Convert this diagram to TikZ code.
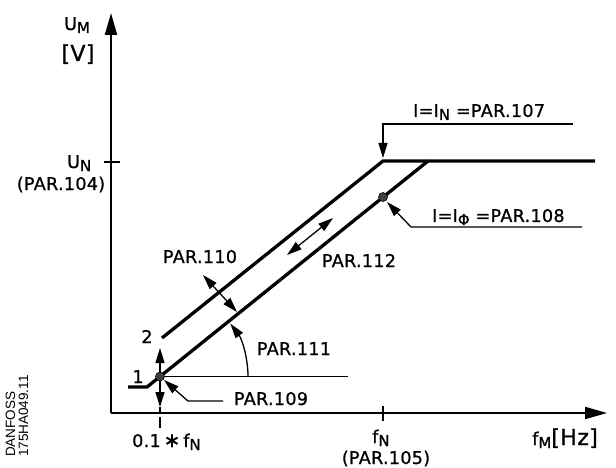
\documentclass[tikz,border=0pt]{standalone}
\usepackage{fontspec}
\setmainfont{DejaVu Sans}[LetterSpace=2, FakeBold=1]
\newfontfamily\tagfont{Liberation Sans}
\usetikzlibrary{arrows.meta}
\newcommand{\lowsub}[1]{\raisebox{-3pt}{\fontsize{15}{15}\selectfont #1}}
\newcommand{\bigunit}[1]{{\fontsize{22}{22}\selectfont #1}}
\begin{document}
\begin{tikzpicture}[x=1pt,y=-1pt,
  lbl/.style={inner sep=0pt, font=\fontsize{17.5}{19}\selectfont},
  tag/.style={inner sep=0pt, rotate=90, anchor=base west, font=\tagfont\fontsize{13.5}{13.5}\selectfont},
  axisline/.style={line width=2pt, -{Triangle[length=22pt,width=12pt]}},
  curve/.style={line width=3.3pt},
  thinline/.style={line width=1.3pt},
  tipend/.style={-{Triangle[length=15pt,width=9pt]}},
  tipboth/.style={{Triangle[length=15pt,width=9pt]}-{Triangle[length=15pt,width=9pt]}},
  dot/.style={circle, fill=black!75, draw=black, line width=0.6pt, inner sep=0pt, minimum size=9pt}
]
\useasboundingbox (0,0) rectangle (616,468);

% axes
\coordinate (O) at (111,413);
\coordinate (Ytop) at (111,13);
\coordinate (Xend) at (607,413);
\draw[axisline] (O) -- (Ytop);
\draw[axisline] (O) -- (Xend);

% ticks
\coordinate (unL) at (104,162);
\coordinate (unR) at (120,162);
\draw[thinline] (unL) -- (unR);
\coordinate (fnT) at (383,406);
\coordinate (fnB) at (383,421);
\draw[thinline] (fnT) -- (fnB);

% characteristic lines
\coordinate (a0) at (128,387);
\coordinate (a1) at (147,387);
\coordinate (a2) at (428,161);
\coordinate (b0) at (162,338);
\coordinate (b1) at (383,161);
\coordinate (b2) at (595,161);
\draw[curve] (a0) -- (a1) -- (a2);
\draw[curve] (b0) -- (b1) -- (b2);

% points
\coordinate (p1) at (160,376.5);
\coordinate (p2) at (383,197);

% horizontal reference line and angle arc
\coordinate (hr) at (348,376.5);
\draw[thinline] (p1) -- (hr);
\coordinate (arcS) at (248,376.5);
\draw[thinline, tipend] (arcS) arc[start angle=0, end angle=-37, radius=88];

% vertical double arrow at 0.1 fN
\coordinate (vu) at (160,348);
\coordinate (vd) at (160,407);
\draw[thinline, tipboth] (vu) -- (vd);
\coordinate (va) at (160,413);
\draw[thinline] (vd) -- (va);
\coordinate (dsA) at (160,417);
\coordinate (dsB) at (160,428);
\draw[thinline] (dsA) -- (dsB);

% PAR.110 arrow
\coordinate (q1) at (203,275);
\coordinate (q2) at (237,312);
\draw[thinline, tipboth] (q1) -- (q2);

% PAR.112 arrow
\coordinate (r1) at (287,255);
\coordinate (r2) at (333,218);
\draw[thinline, tipboth] (r1) -- (r2);

% PAR.109 leader
\coordinate (l9a) at (223,401);
\coordinate (l9b) at (188,401);
\coordinate (l9t) at (164,380);
\draw[thinline, tipend] (l9a) -- (l9b) -- (l9t);

% PAR.107 leader
\coordinate (l7a) at (573,124);
\coordinate (l7b) at (383,124);
\coordinate (l7t) at (383,158);
\draw[thinline, tipend] (l7a) -- (l7b) -- (l7t);

% PAR.108 leader
\coordinate (l8a) at (582,227);
\coordinate (l8b) at (411,227);
\coordinate (l8t) at (387,202);
\draw[thinline, tipend] (l8a) -- (l8b) -- (l8t);

\node[dot] (dot1) at (p1) {};
\node[dot] (dot2) at (p2) {};

% labels
\node[lbl, anchor=base west] (um) at (64,30) {U\lowsub{M}};
\node[lbl, anchor=base] (uv) at (78,61) {\bigunit{[V]}};
\node[lbl, anchor=base west] (un) at (67,168) {U\lowsub{N}};
\node[lbl, anchor=base] (p104) at (61,190) {(PAR.104)};
\node[lbl, anchor=base west] (i107) at (413,117) {I=I\lowsub{N} =PAR.107};
\node[lbl, anchor=base west] (i108) at (432,222) {I=I\lowsub{\char"03A6} =PAR.108};
\node[lbl, anchor=base] (p110) at (200,263) {PAR.110};
\node[lbl, anchor=base] (p112) at (359,267) {PAR.112};
\node[lbl, anchor=base] (p111) at (294,355) {PAR.111};
\node[lbl, anchor=base] (p109) at (271,405) {PAR.109};
\node[lbl, anchor=base] (n2) at (147,343) {2};
\node[lbl, anchor=base] (n1) at (138,383) {1};
\node[lbl, anchor=base west] (x01) at (132,447) {0.1\,{\fontsize{20}{20}\selectfont\char"2217}\,f\lowsub{N}};
\node[lbl, anchor=base west] (xfn) at (372,443) {f\lowsub{N}};
\node[lbl, anchor=base] (p105) at (386,464) {(PAR.105)};
\node[lbl, anchor=base west] (xfm) at (532,445) {f\lowsub{M}\bigunit{[Hz]}};

% drawing tag
\node[tag] (tag1) at (15,457) {DANFOSS};
\node[tag] (tag2) at (28,457) {175HA049.11};
\end{tikzpicture}
\end{document}
